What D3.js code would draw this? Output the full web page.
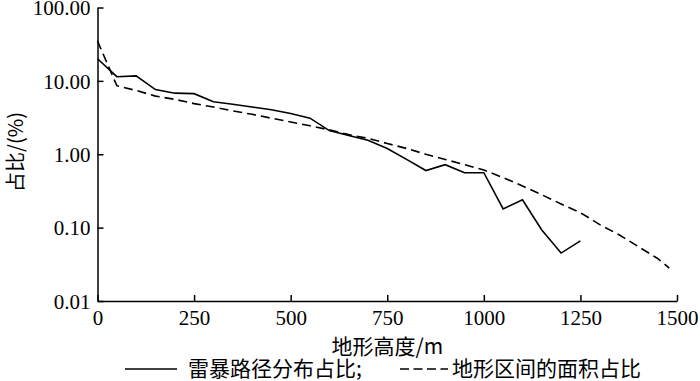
<!DOCTYPE html>
<html><head><meta charset="utf-8">
<script src="https://cdn.jsdelivr.net/npm/d3@7"></script>
<style>
body{margin:0;background:#fff}svg{display:block}
.num{font-family:"Liberation Serif","Times New Roman",serif !important;font-size:21px !important;fill:#000}
.cjk{font-family:"Noto Sans CJK SC",sans-serif;font-size:21px;fill:#000}
</style>
</head><body>
<svg id="c" width="700" height="381"></svg>
<script>
const solidX = [0,50,100,150,200,250,300,350,400,450,500,550,600,650,700,750,800,850,900,950,1000,1050,1100,1150,1200,1250];
const solidY = [20,11.4,11.7,7.6,6.8,6.7,5.2,4.8,4.4,4.05,3.6,3.1,2.1,1.8,1.55,1.2,0.85,0.6,0.72,0.56,0.56,0.18,0.24,0.093,0.045,0.066];
const dashX = [0,50,100,150,200,250,300,350,400,450,500,550,600,650,700,750,800,850,900,950,1000,1050,1100,1150,1200,1250,1300,1350,1400,1450,1480];
const dashY = [35,8.6,7.4,6.2,5.6,4.9,4.4,3.9,3.5,3.1,2.75,2.44,2.15,1.85,1.65,1.4,1.2,1.0,0.85,0.72,0.61,0.48,0.37,0.28,0.21,0.16,0.11,0.08,0.055,0.038,0.028];
const xTicks = [0,250,500,750,1000,1250,1500];
const yTicks = [0.01,0.1,1,10,100];
const yTickLabels = ["0.01","0.10","1.00","10.00","100.00"];
const seriesNames = ["雷暴路径分布占比;","地形区间的面积占比"];
const xTitle = "地形高度/m";
const yTitle = "占比/(%)";

const svg = d3.select("#c");
const L = 97.5, R = 677, T = 7.5, B = 301;
const x = d3.scaleLinear().domain([0,1500]).range([L,R]);
const y = d3.scaleLog().domain([0.01,100]).range([B,T]);

// axes
const xa = svg.append("g").attr("transform",`translate(0,${B})`)
  .call(d3.axisBottom(x).tickValues(xTicks).tickFormat(d3.format("d")).tickSizeInner(-6).tickSizeOuter(0).tickPadding(10));
const ya = svg.append("g").attr("transform",`translate(${L},0)`)
  .call(d3.axisLeft(y).tickValues(yTicks).tickFormat((d,i)=>yTickLabels[i]).tickSizeInner(-6).tickSizeOuter(0).tickPadding(7));
[xa,ya].forEach(a=>{
  a.attr("font-family",null).attr("font-size",null);
  a.select(".domain").attr("stroke","#000").attr("stroke-width",1.5);
  a.selectAll(".tick line").attr("stroke","#000").attr("stroke-width",1.5);
  a.selectAll("text").attr("class","num");
});
ya.selectAll(".tick text").attr("dy","0.35em");
xa.selectAll(".tick text").attr("dy","0.66em");

// lines
const line = d3.line().x(d=>x(d[0])).y(d=>y(d[1]));
svg.append("path").datum(solidX.map((v,i)=>[v,solidY[i]]))
  .attr("d",line).attr("fill","none").attr("stroke","#000").attr("stroke-width",1.6);
svg.append("path").datum(dashX.map((v,i)=>[v,dashY[i]]))
  .attr("d",line).attr("fill","none").attr("stroke","#000").attr("stroke-width",1.6)
  .attr("stroke-dasharray","9,5");

// titles
svg.append("text").attr("class","cjk").attr("x",(L+R)/2).attr("y",354).attr("text-anchor","middle").text(xTitle);
svg.append("text").attr("class","cjk").attr("transform","translate(23,152) rotate(-90)").attr("text-anchor","middle")
  .style("font-size","20px").text(yTitle);

// legend
const ly = 369;
svg.append("line").attr("x1",125).attr("x2",177).attr("y1",ly).attr("y2",ly).attr("stroke","#000").attr("stroke-width",1.6);
svg.append("text").attr("class","cjk").attr("x",188).attr("y",ly+7).text(seriesNames[0]);
svg.append("line").attr("x1",400).attr("x2",448).attr("y1",ly).attr("y2",ly).attr("stroke","#000").attr("stroke-width",1.6).attr("stroke-dasharray","9,4.5");
svg.append("text").attr("class","cjk").attr("x",452).attr("y",ly+7).text(seriesNames[1]);
</script>
</body></html>
